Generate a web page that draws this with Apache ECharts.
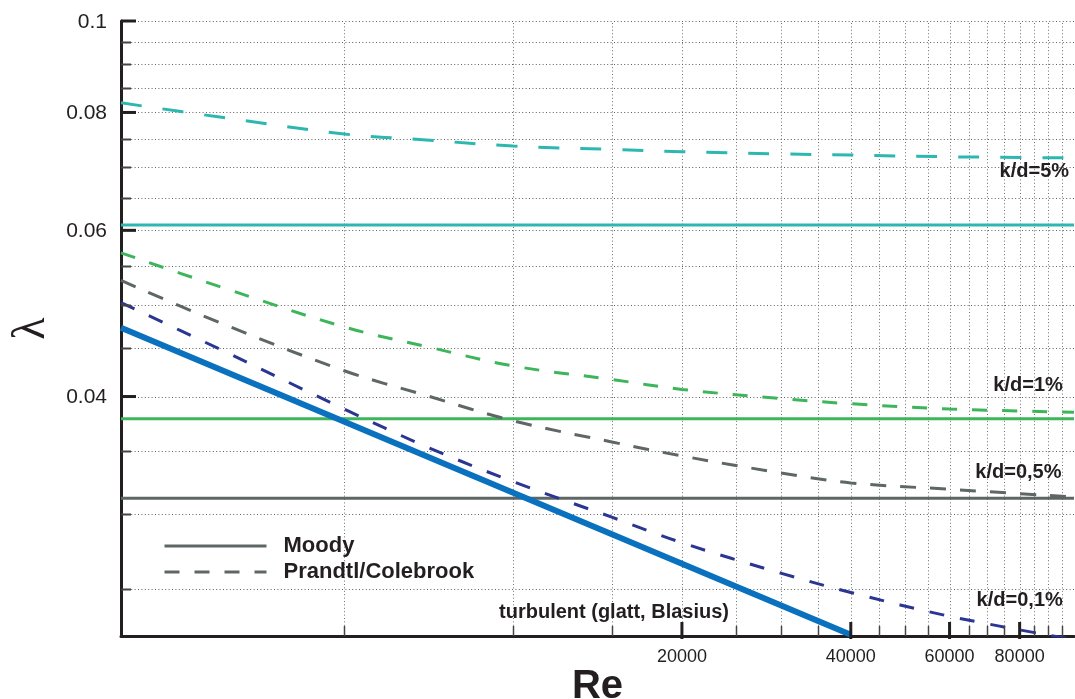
<!DOCTYPE html>
<html>
<head>
<meta charset="utf-8">
<script src="https://cdn.jsdelivr.net/npm/echarts@6/dist/echarts.min.js"></script>
<style>
  html, body { margin: 0; padding: 0; background: #fff; }
  #chart { width: 1075px; height: 699px; }
</style>
</head>
<body>
<div id="chart"></div>
<script>
// Reynolds numbers at which the Prandtl/Colebrook curves are sampled
const reSamples = [2000, 3000, 5000, 7000, 10000, 15000, 20000, 30000, 40000, 60000, 100000];

// Prandtl/Colebrook friction factor λ for each relative roughness k/d
const colebrook5  = [0.0819, 0.0791, 0.0759, 0.0748, 0.0737, 0.0731, 0.0727, 0.0723, 0.0721, 0.0718, 0.0716];
const colebrook1  = [0.0568, 0.0523, 0.0474, 0.0452, 0.0431, 0.0417, 0.0407, 0.0398, 0.0393, 0.0388, 0.0385];
const colebrook05 = [0.0531, 0.0479, 0.0426, 0.0401, 0.0377, 0.0358, 0.0346, 0.0332, 0.0324, 0.0319, 0.0313];
const colebrook01 = [0.0503, 0.0449, 0.0388, 0.0354, 0.0325, 0.0298, 0.0280, 0.0260, 0.0248, 0.0234, 0.0221];

// Moody (fully rough) friction factors, constant over Re
const moody5  = 0.0608;
const moody1  = 0.0379;
const moody05 = 0.0312;

// Smooth pipe, Blasius
const blasiusRe     = [2000, 40000];
const blasiusLambda = [0.0473, 0.02237];

// Axis ticks and grid
const xTickValues   = [20000, 40000, 60000, 80000];
const xTickLabels   = ['20000', '40000', '60000', '80000'];
const yTickValues   = [0.1, 0.08, 0.06, 0.04];
const yTickLabels   = ['0.1', '0.08', '0.06', '0.04'];
const xGridValues   = [5000, 10000, 15000, 20000, 25000, 30000, 35000, 40000, 45000, 50000,
                       55000, 60000, 65000, 70000, 75000, 80000, 85000, 90000, 95000, 100000];
const xMinorTicks   = [5000, 10000, 15000, 25000, 30000, 35000, 45000, 50000, 55000,
                       65000, 70000, 75000, 85000, 90000, 95000];
const yGridValues   = [0.025, 0.03, 0.035, 0.04, 0.045, 0.05, 0.055, 0.06, 0.065,
                       0.07, 0.075, 0.08, 0.085, 0.09, 0.095, 0.1];
const yMinorTicks   = [0.025, 0.03, 0.035, 0.045, 0.05, 0.055, 0.065, 0.07, 0.075, 0.085, 0.09, 0.095];

// Curve annotations
const annotationTexts = ['k/d=5%', 'k/d=1%', 'k/d=0,5%', 'k/d=0,1%', 'turbulent (glatt, Blasius)'];

// Layout of the annotations: anchor in data coordinates and text alignment
const annotationLayout = [
  { at: [98000, 0.0692], align: 'right' },
  { at: [95500, 0.0411], align: 'right' },
  { at: [95000, 0.0332], align: 'right' },
  { at: [95500, 0.0243], align: 'right' },
  { at: [9440, 0.0236], align: 'left' }
];

const X_MIN = 2000, X_MAX = 100000, Y_MIN = 0.0223, Y_MAX = 0.1;
const FONT = '"Liberation Sans", Arial, Helvetica, sans-serif';
const INK = '#231f20';
const C_TEAL = '#2cb8b1', C_GREEN = '#3db55a', C_GRAY = '#5e6766', C_NAVY = '#2b3592', C_BLUE = '#0a71be';

const pairs = (xs, ys) => xs.map((x, i) => [x, ys[i]]);
const flat = v => [[X_MIN, v], [X_MAX, v]];

const chart = echarts.init(document.getElementById('chart'), null, { renderer: 'canvas' });

function solid(name, value, color) {
  return { type: 'line', name, data: flat(value), symbol: 'none', silent: true, z: 3,
           lineStyle: { color, width: 3 }, itemStyle: { color } };
}
function dashed(name, values, color, dash) {
  return { type: 'line', name, data: pairs(reSamples, values), symbol: 'none', silent: true, z: 4,
           smooth: 0.35, lineStyle: { color, width: 3, type: dash, cap: 'butt' }, itemStyle: { color } };
}

const option = {
  animation: false,
  backgroundColor: '#fff',
  grid: { left: 121, right: 1, top: 21, bottom: 63, containLabel: false, outerBoundsMode: 'none' },
  legend: {
    data: [
      { name: 'Moody', lineStyle: { color: C_GRAY, width: 3, type: 'solid' } },
      { name: 'Prandtl/Colebrook', lineStyle: { color: C_GRAY, width: 3, type: [15, 15], cap: 'butt' } }
    ],
    orient: 'vertical', left: 163, top: 535, padding: 0,
    itemWidth: 102, itemHeight: 14, itemGap: 4,
    selectedMode: false,
    itemStyle: { opacity: 0 },
    lineStyle: { width: 3 },
    textStyle: { fontFamily: FONT, fontWeight: 'bold', fontSize: 22, color: INK, padding: [0, 0, 0, 12] }
  },
  xAxis: {
    type: 'log', logBase: 10, min: X_MIN, max: X_MAX,
    name: 'Re', nameLocation: 'middle', nameGap: 31,
    nameTextStyle: { fontFamily: FONT, fontWeight: 'bold', fontSize: 40, color: INK },
    axisLine: { show: true, onZero: false, lineStyle: { color: INK, width: 3 } },
    axisTick: { show: false }, axisLabel: { show: false }, splitLine: { show: false }, minorTick: { show: false }
  },
  yAxis: {
    type: 'log', logBase: 10, min: Y_MIN, max: Y_MAX,
    name: 'λ', nameLocation: 'middle', nameGap: 66, nameRotate: 90,
    nameTextStyle: { fontFamily: '"Liberation Serif", "DejaVu Serif", serif', fontSize: 46, color: INK },
    axisLine: { show: true, onZero: false, lineStyle: { color: INK, width: 3 } },
    axisTick: { show: false }, axisLabel: { show: false }, splitLine: { show: false }, minorTick: { show: false }
  },
  series: [
    // dotted vertical grid
    {
      type: 'custom', silent: true, clip: true, z: 1,
      data: xGridValues.map(v => [v, Y_MIN]),
      renderItem: (params, api) => {
        const a = api.coord([api.value(0), Y_MIN]);
        const b = api.coord([api.value(0), Y_MAX]);
        const x = Math.round(a[0]) + 0.5;
        return { type: 'line', shape: { x1: x, y1: a[1], x2: x, y2: b[1] },
                 style: { stroke: '#6f6f6f', lineWidth: 1, lineDash: [1, 2.4] } };
      }
    },
    // dotted horizontal grid
    {
      type: 'custom', silent: true, clip: true, z: 1,
      data: yGridValues.map(v => [X_MIN, v]),
      renderItem: (params, api) => {
        const a = api.coord([X_MIN, api.value(1)]);
        const b = api.coord([X_MAX, api.value(1)]);
        const y = Math.round(a[1]) + 0.5;
        return { type: 'line', shape: { x1: a[0], y1: y, x2: b[0], y2: y },
                 style: { stroke: '#5f5f5f', lineWidth: 1, lineDash: [1, 2.4] } };
      }
    },
    // Moody, solid
    solid('Moody k/d=5%', moody5, C_TEAL),
    solid('Moody k/d=1%', moody1, C_GREEN),
    solid('Moody k/d=0,5%', moody05, C_GRAY),
    // Prandtl/Colebrook, dashed
    dashed('Colebrook k/d=5%', colebrook5, C_TEAL, [21, 21]),
    dashed('Colebrook k/d=1%', colebrook1, C_GREEN, [15, 15]),
    dashed('Colebrook k/d=0,5%', colebrook05, C_GRAY, [16, 14]),
    dashed('Colebrook k/d=0,1%', colebrook01, C_NAVY, [15, 16]),
    // Blasius
    {
      type: 'line', name: 'Blasius', data: pairs(blasiusRe, blasiusLambda), symbol: 'none', silent: true, z: 6,
      lineStyle: { color: C_BLUE, width: 6 }, itemStyle: { color: C_BLUE }
    },
    // legend entries
    { type: 'line', name: 'Moody', data: [], symbol: 'none', showSymbol: false,
      lineStyle: { color: C_GRAY, width: 3 }, itemStyle: { color: C_GRAY } },
    { type: 'line', name: 'Prandtl/Colebrook', data: [], symbol: 'none', showSymbol: false,
      lineStyle: { color: C_GRAY, width: 3, type: [15, 15] }, itemStyle: { color: C_GRAY } },
    // y axis ticks and labels
    {
      type: 'custom', silent: true, clip: false, z: 8,
      data: yTickValues.map((v, i) => [X_MIN, v, i]),
      renderItem: (params, api) => {
        const p = api.coord([X_MIN, api.value(1)]);
        const i = api.value(2);
        return { type: 'group', children: [
          { type: 'line', shape: { x1: p[0], y1: p[1], x2: p[0] + 15, y2: p[1] },
            style: { stroke: INK, lineWidth: 3 } },
          { type: 'text', x: p[0] - 14, y: p[1] + 1,
            style: { text: yTickLabels[i], align: 'right', verticalAlign: 'middle',
                     fontFamily: FONT, fontSize: 21, fill: INK } }
        ] };
      }
    },
    {
      type: 'custom', silent: true, clip: false, z: 8,
      data: yMinorTicks.map(v => [X_MIN, v]),
      renderItem: (params, api) => {
        const p = api.coord([X_MIN, api.value(1)]);
        const y = Math.round(p[1]) + 0.5;
        return { type: 'line', shape: { x1: p[0], y1: y, x2: p[0] + 10, y2: y },
                 style: { stroke: '#444', lineWidth: 2 } };
      }
    },
    // x axis ticks and labels
    {
      type: 'custom', silent: true, clip: false, z: 8,
      data: xTickValues.map((v, i) => [v, Y_MIN, i]),
      renderItem: (params, api) => {
        const p = api.coord([api.value(0), Y_MIN]);
        const i = api.value(2);
        return { type: 'group', children: [
          { type: 'line', shape: { x1: p[0], y1: p[1] - 14, x2: p[0], y2: p[1] + 3 },
            style: { stroke: INK, lineWidth: 3 } },
          { type: 'text', x: p[0], y: p[1] + 12,
            style: { text: xTickLabels[i], align: 'center', verticalAlign: 'top',
                     fontFamily: FONT, fontSize: 18, fill: INK } }
        ] };
      }
    },
    {
      type: 'custom', silent: true, clip: false, z: 8,
      data: xMinorTicks.map(v => [v, Y_MIN]),
      renderItem: (params, api) => {
        const p = api.coord([api.value(0), Y_MIN]);
        const x = Math.round(p[0]) + 0.5;
        return { type: 'line', shape: { x1: x, y1: p[1] - 10, x2: x, y2: p[1] },
                 style: { stroke: '#444', lineWidth: 1.5 } };
      }
    },
    // curve annotations
    {
      type: 'custom', silent: true, clip: false, z: 10,
      data: annotationLayout.map((l, i) => [l.at[0], l.at[1], i]),
      renderItem: (params, api) => {
        const i = api.value(2);
        const p = api.coord([api.value(0), api.value(1)]);
        return { type: 'text', x: p[0], y: p[1],
                 style: { text: annotationTexts[i], align: annotationLayout[i].align, verticalAlign: 'middle',
                          fontFamily: FONT, fontWeight: 'bold', fontSize: 20, fill: INK } };
      }
    }
  ]
};

chart.setOption(option);
</script>
</body>
</html>
